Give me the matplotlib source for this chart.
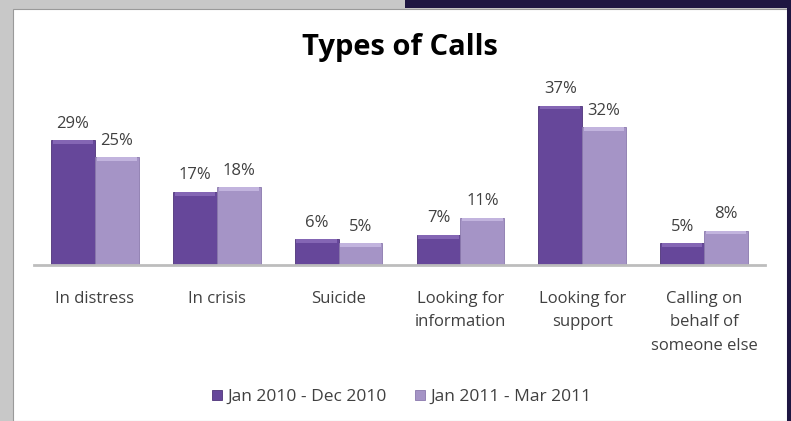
import matplotlib
matplotlib.use("Agg")
import matplotlib.pyplot as plt
from matplotlib.patches import Rectangle
import numpy as np

categories = ["In distress", "In crisis", "Suicide", "Looking for\ninformation",
              "Looking for\nsupport", "Calling on\nbehalf of\nsomeone else"]
series_names = ["Jan 2010 - Dec 2010", "Jan 2011 - Mar 2011"]
values_2010 = [29, 17, 6, 7, 37, 5]
values_2011 = [25, 18, 5, 11, 32, 8]
title = "Types of Calls"

dark = "#66479a"
dark_cap = "#8466b4"
light = "#a594c6"
light_cap = "#c2b4de"
text_col = "#404040"
font = "Open Sans"

W, H = 791, 421
fig = plt.figure(figsize=(W / 100, H / 100), dpi=100)
fig.patch.set_facecolor("#c8c8c8")

# slide background pieces
fig.add_artist(Rectangle((13 / W, 0), (787 - 13) / W, (H - 9) / H, transform=fig.transFigure,
                         facecolor="white", edgecolor="#9a9a9a", lw=0.8, zorder=0))
fig.add_artist(Rectangle((405 / W, (H - 8) / H), (W - 405) / W, 8 / H, transform=fig.transFigure,
                         facecolor="#1e1642", edgecolor="none", zorder=0))
fig.add_artist(Rectangle((787 / W, 0), 4 / W, 1, transform=fig.transFigure,
                         facecolor="#1e1642", edgecolor="none", zorder=0))

ax = fig.add_axes([34 / W, 1 - 265 / H, (765 - 34) / W, 172.4 / H])
ax.set_facecolor("none")
x = np.arange(len(categories))
bw = 0.36
cap = 0.9
b1 = ax.bar(x - bw / 2, values_2010, bw, color=dark, edgecolor="#4e3479", lw=0.6,
            label=series_names[0], zorder=2)
b2 = ax.bar(x + bw / 2, values_2011, bw, color=light, edgecolor="#8a78ad", lw=0.6,
            label=series_names[1], zorder=2)
# bevel highlight on bar tops
ax.bar(x - bw / 2, [cap] * len(x), bw * 0.92, bottom=[v - cap for v in values_2010],
       color=dark_cap, lw=0, zorder=3)
ax.bar(x + bw / 2, [cap] * len(x), bw * 0.92, bottom=[v - cap for v in values_2011],
       color=light_cap, lw=0, zorder=3)
for bars in (b1, b2):
    ax.bar_label(bars, labels=[f"{v}%" for v in bars.datavalues], padding=6,
                 fontsize=12, color=text_col, family=font)

ax.set_xlim(-0.5, len(categories) - 0.5)
ax.set_ylim(0, 40)
ax.set_yticks([])
ax.set_xticks(x)
ax.set_xticklabels(categories, fontsize=12, color=text_col, family=font, linespacing=1.65)
ax.tick_params(axis="x", length=0, pad=18.5)
for s in ("top", "right", "left"):
    ax.spines[s].set_visible(False)
ax.spines["bottom"].set_color("#bdbdbd")
ax.spines["bottom"].set_linewidth(2)

fig.text(400 / W, 1 - 47 / H, title, ha="center", va="center", fontsize=21,
         fontweight="bold", color="black", family=font)

leg = fig.legend(handles=[b1, b2], labels=series_names, loc="center",
                 bbox_to_anchor=(402 / W, 1 - 397 / H), ncol=2, frameon=False,
                 prop={"family": font, "size": 12.5}, handlelength=0.55, handleheight=0.55,
                 handletextpad=0.35, columnspacing=1.6)
for t in leg.get_texts():
    t.set_color(text_col)

fig.savefig("out.png", dpi=100, facecolor=fig.get_facecolor())
